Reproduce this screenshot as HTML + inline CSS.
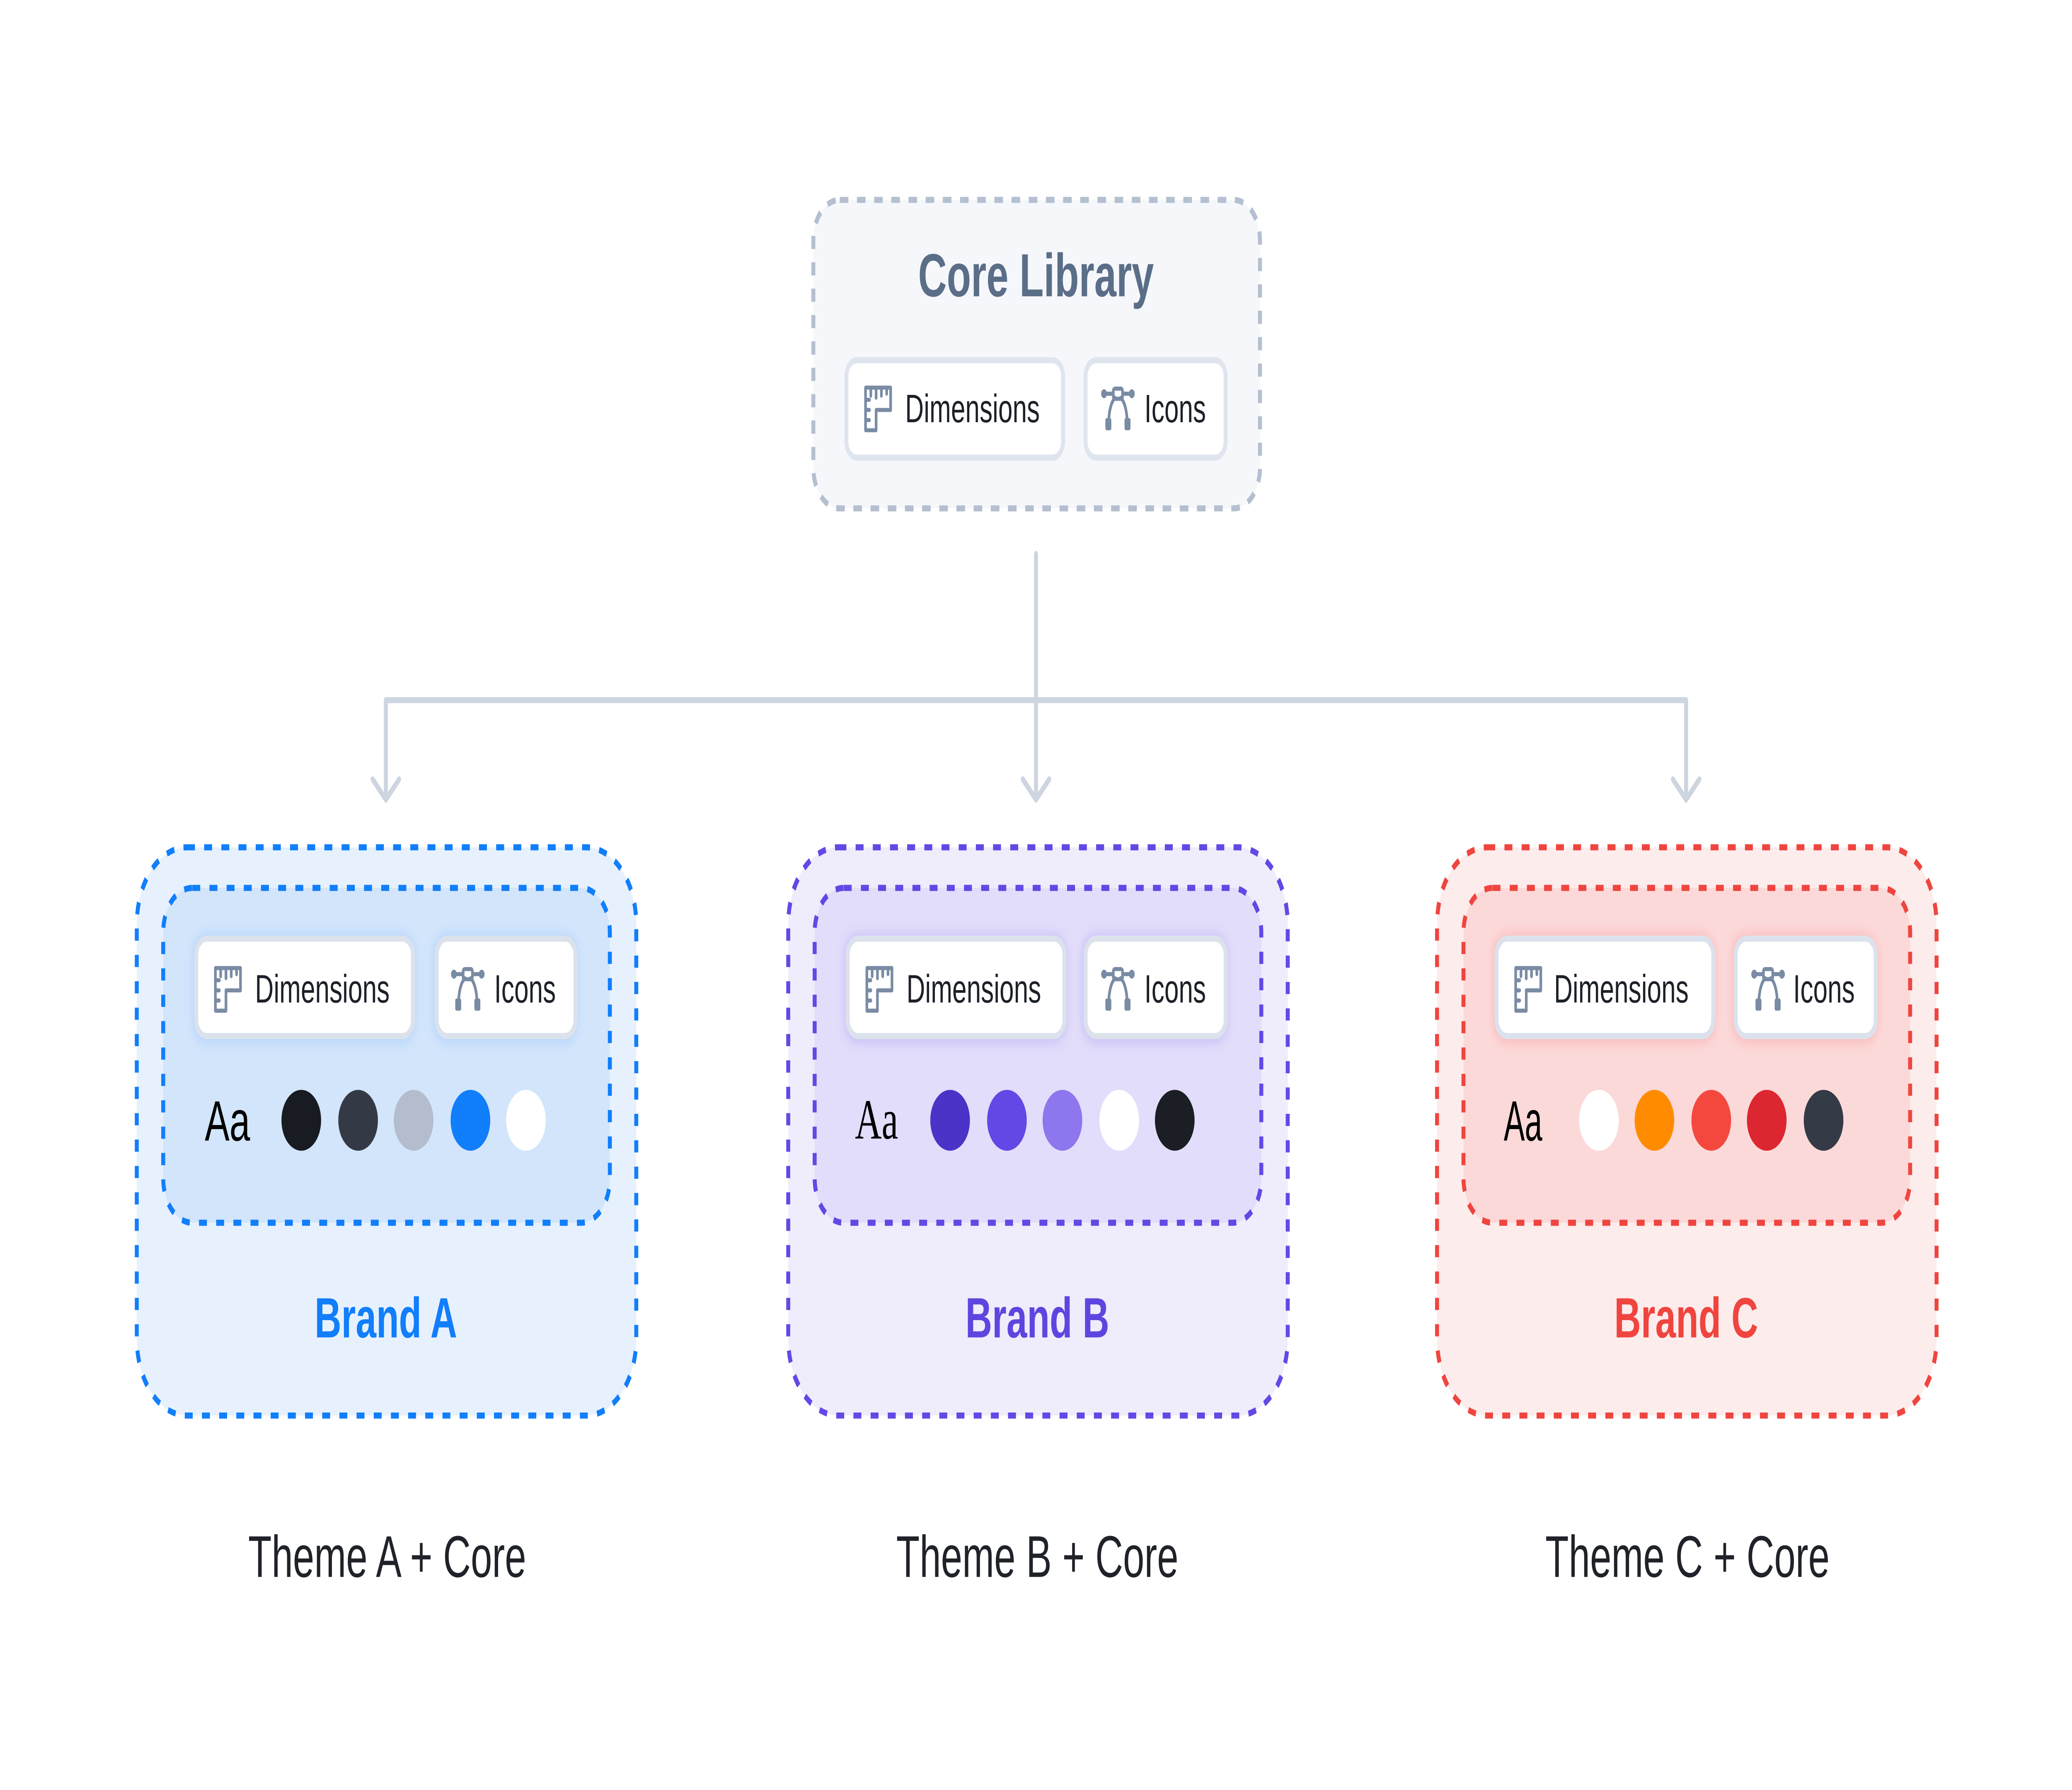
<!DOCTYPE html>
<html><head><meta charset="utf-8"><style>
html,body{margin:0;padding:0;background:#fff;width:100%;height:100%;overflow:hidden;}
svg{display:block;position:fixed;left:0;top:0;width:100vw;height:100vh;}
text{font-family:"Liberation Sans",sans-serif;}
</style></head><body>
<svg viewBox="0 0 1568 882" preserveAspectRatio="none" xmlns="http://www.w3.org/2000/svg">
<defs>
<g id="ruler" fill="none" stroke="#7a8ba4" stroke-width="2" stroke-linejoin="round" stroke-linecap="round">
<path d="M1,1 H20 V12 H9 V22 H1 Z"/>
<path d="M5,1 V5 M9,1 V6 M13,1 V5 M17,1 V4 M1,7 H4 M1,12 H4 M1,17 H4"/>
</g>
<g id="bez" stroke="#7a8ba4" stroke-width="2" fill="none" stroke-linecap="round">
<path d="M3,3 H9 M17,3 H23"/>
<rect x="9.5" y="0.5" width="7" height="5" rx="1.2"/>
<path d="M6,18 C6,10 9,6 11,5 M20,18 C20,10 17,6 15,5"/>
<circle cx="2.5" cy="3" r="2.2" fill="#7a8ba4" stroke="none"/>
<circle cx="23.5" cy="3" r="2.2" fill="#7a8ba4" stroke="none"/>
<rect x="3.5" y="15" width="4.5" height="6" rx="1" fill="#7a8ba4" stroke="none"/>
<rect x="18" y="15" width="4.5" height="6" rx="1" fill="#7a8ba4" stroke="none"/>
</g>
<filter id="glowA" x="-20%" y="-30%" width="140%" height="160%"><feGaussianBlur stdDeviation="3"/></filter>
</defs>

<rect x="615.5" y="98.5" width="338" height="152" rx="20" fill="#f5f7fb" stroke="#b4bfd0" stroke-width="3" stroke-dasharray="6.5 6.5"/>
<text x="784" y="146" text-anchor="middle" font-size="30" font-weight="bold" fill="#5b6e88">Core Library</text>
<rect x="640.5" y="177.5" width="164" height="48" rx="8" fill="#fff" stroke="#dfe5ee" stroke-width="3"/>
<use href="#ruler" x="654" y="190"/>
<text x="685" y="208" font-size="19.5" fill="#1c2028">Dimensions</text>
<rect x="821.5" y="177.5" width="106" height="48" rx="8" fill="#fff" stroke="#dfe5ee" stroke-width="3"/>
<use href="#bez" x="833" y="191"/>
<text x="866" y="208" font-size="19.5" fill="#1c2028">Icons</text>

<g stroke="#cdd5e1" stroke-width="3" fill="none" stroke-linecap="round" stroke-linejoin="round">
<path d="M784,273 V394 M292,345 H1276 M292,345 V394 M1276,345 V394"/>
<path d="M282,384 L292,394 L302,384 M774,384 L784,394 L794,384 M1266,384 L1276,394 L1286,384"/>
</g>

<g>
<rect x="103.5" y="417.5" width="378" height="280" rx="38" fill="#e7f1fd" stroke="#117efb" stroke-width="3" stroke-dasharray="6 7"/>
<rect x="123.5" y="437.5" width="338" height="165" rx="22" fill="#d2e5fb" stroke="#117efb" stroke-width="3" stroke-dasharray="6 7"/>
<rect x="146" y="460" width="168" height="54" rx="10" fill="#b8d6fb" filter="url(#glowA)"/>
<rect x="328" y="460" width="109" height="54" rx="10" fill="#b8d6fb" filter="url(#glowA)"/>
<rect x="148.5" y="462.5" width="164" height="48" rx="8" fill="#fff" stroke="#dbe2ec" stroke-width="3"/>
<use href="#ruler" x="162" y="476"/>
<text x="193" y="494" font-size="19.5" fill="#1c2028">Dimensions</text>
<rect x="330.5" y="462.5" width="105" height="48" rx="8" fill="#fff" stroke="#dbe2ec" stroke-width="3"/>
<use href="#bez" x="341" y="477"/>
<text x="374" y="494" font-size="19.5" fill="#1c2028">Icons</text>
<text x="155" y="562" font-size="28" fill="#000">Aa</text>
<circle cx="228" cy="552" r="15" fill="#181c22"/>
<circle cx="271" cy="552" r="15" fill="#333a46"/>
<circle cx="313" cy="552" r="15" fill="#b3bdcd"/>
<circle cx="356" cy="552" r="15" fill="#117efb"/>
<circle cx="398" cy="552" r="15" fill="#fff"/>
<text x="292" y="659" text-anchor="middle" font-size="28" font-weight="bold" fill="#117efb">Brand A</text>
</g>

<g>
<rect x="596.5" y="417.5" width="378" height="280" rx="38" fill="#efecfb" stroke="#6447e5" stroke-width="3" stroke-dasharray="6 7"/>
<rect x="616.5" y="437.5" width="338" height="165" rx="22" fill="#e2ddfa" stroke="#6447e5" stroke-width="3" stroke-dasharray="6 7"/>
<rect x="639" y="460" width="168" height="54" rx="10" fill="#cbc1f7" filter="url(#glowA)"/>
<rect x="819" y="460" width="110" height="54" rx="10" fill="#cbc1f7" filter="url(#glowA)"/>
<rect x="641.5" y="462.5" width="164" height="48" rx="8" fill="#fff" stroke="#dbe2ec" stroke-width="3"/>
<use href="#ruler" x="655" y="476"/>
<text x="686" y="494" font-size="19.5" fill="#1c2028">Dimensions</text>
<rect x="821.5" y="462.5" width="106" height="48" rx="8" fill="#fff" stroke="#dbe2ec" stroke-width="3"/>
<use href="#bez" x="833" y="477"/>
<text x="866" y="494" font-size="19.5" fill="#1c2028">Icons</text>
<text x="647" y="561" font-size="28" fill="#000" style="font-family:'Liberation Serif',serif">Aa</text>
<circle cx="719" cy="552" r="15" fill="#4b33c7"/>
<circle cx="762" cy="552" r="15" fill="#6447e5"/>
<circle cx="804" cy="552" r="15" fill="#8e76ee"/>
<circle cx="847" cy="552" r="15" fill="#fff"/>
<circle cx="889" cy="552" r="15" fill="#1b1e24"/>
<text x="785" y="659" text-anchor="middle" font-size="28" font-weight="bold" fill="#5f45df">Brand B</text>
</g>

<g>
<rect x="1087.5" y="417.5" width="378" height="280" rx="38" fill="#fdecec" stroke="#f0453f" stroke-width="3" stroke-dasharray="6 7"/>
<rect x="1107.5" y="437.5" width="338" height="165" rx="22" fill="#fcd9d9" stroke="#f0453f" stroke-width="3" stroke-dasharray="6 7"/>
<rect x="1130" y="460" width="168" height="54" rx="10" fill="#f9bcbc" filter="url(#glowA)"/>
<rect x="1311" y="460" width="110" height="54" rx="10" fill="#f9bcbc" filter="url(#glowA)"/>
<rect x="1132.5" y="462.5" width="164" height="48" rx="8" fill="#fff" stroke="#dbe2ec" stroke-width="3"/>
<use href="#ruler" x="1146" y="476"/>
<text x="1176" y="494" font-size="19.5" fill="#1c2028">Dimensions</text>
<rect x="1313.5" y="462.5" width="106" height="48" rx="8" fill="#fff" stroke="#dbe2ec" stroke-width="3"/>
<use href="#bez" x="1325" y="477"/>
<text x="1357" y="494" font-size="19.5" fill="#1c2028">Icons</text>
<text x="1138" y="562" font-size="28" fill="#000" transform="translate(1138 0) scale(0.85 1) translate(-1138 0)">Aa</text>
<circle cx="1210" cy="552" r="15" fill="#fff"/>
<circle cx="1252" cy="552" r="15" fill="#ff8c00"/>
<circle cx="1295" cy="552" r="15" fill="#f4483f"/>
<circle cx="1337" cy="552" r="15" fill="#dc2630"/>
<circle cx="1380" cy="552" r="15" fill="#343a46"/>
<text x="1276" y="659" text-anchor="middle" font-size="28" font-weight="bold" fill="#f0453f">Brand C</text>
</g>

<text x="293" y="777" text-anchor="middle" font-size="29" fill="#1f2329">Theme A + Core</text>
<text x="785" y="777" text-anchor="middle" font-size="29" fill="#1f2329">Theme B + Core</text>
<text x="1277" y="777" text-anchor="middle" font-size="29" fill="#1f2329">Theme C + Core</text>
</svg>
</body></html>
